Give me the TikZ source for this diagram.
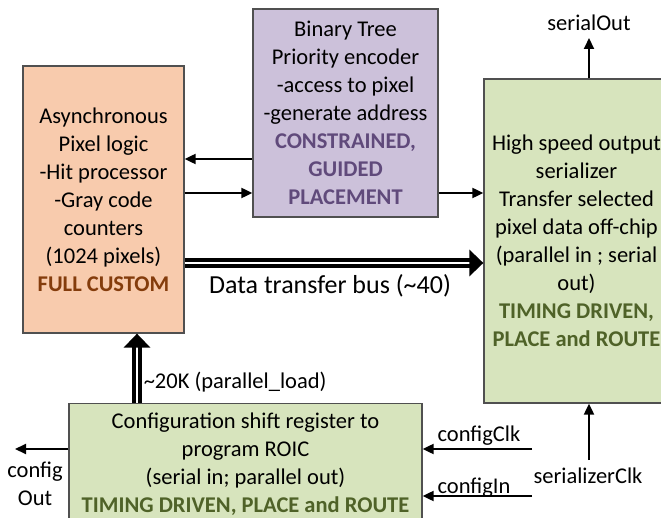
\documentclass[tikz,border=0pt]{standalone}
\usepackage{fontspec}
\setmainfont{Carlito}
\usetikzlibrary{arrows.meta}

\definecolor{pixelfill}{HTML}{F8CBAD}
\definecolor{pixeltext}{HTML}{843C0C}
\definecolor{encfill}{HTML}{CCC1DA}
\definecolor{enctext}{HTML}{604A7B}
\definecolor{serfill}{HTML}{D7E4BD}
\definecolor{sertext}{HTML}{4F6228}
\definecolor{edge}{HTML}{505050}

\begin{document}
\begin{tikzpicture}[x=1pt, y=-1pt,
    every node/.style={font=\fontsize{22.5}{28}\selectfont, inner sep=1pt},
    blk/.style={draw=edge, line width=1.3pt, align=center, inner sep=0pt},
    sig/.style={line width=2pt, -{Triangle[length=11pt,width=10pt]}},
    bus/.style={double, double distance=2.5pt, line width=3.5pt, -{Triangle[length=14pt,width=26pt]}}]
    \clip (0,0) rectangle (661,518);

    % blocks
    \node[blk, fill=pixelfill, minimum width=161pt, minimum height=267pt] (pix) at (103.5,199.5)
        {Asynchronous\\Pixel logic\\-Hit processor\\-Gray code\\counters\\(1024 pixels)\\\textcolor{pixeltext}{\textbf{FULL CUSTOM}}};
    \node[blk, fill=encfill, minimum width=185pt, minimum height=208pt] (enc) at (345.5,113)
        {Binary Tree\\Priority encoder\\-access to pixel\\-generate address\\\textcolor{enctext}{\textbf{CONSTRAINED,}}\\\textcolor{enctext}{\textbf{GUIDED}}\\\textcolor{enctext}{\textbf{PLACEMENT}}};
    \node[blk, fill=serfill, minimum width=185pt, minimum height=324pt] (ser) at (576.5,241)
        {High speed output\\serializer\\Transfer selected\\pixel data off-chip\\(parallel in ; serial\\out)\\\textcolor{sertext}{\textbf{TIMING DRIVEN,}}\\\textcolor{sertext}{\textbf{PLACE and ROUTE}}};
    \node[blk, fill=serfill, minimum width=353pt, minimum height=122pt, anchor=north] (cfg) at (245.5,403)
        {Configuration shift register to\\program ROIC\\(serial in; parallel out)\\\textcolor{sertext}{\textbf{TIMING DRIVEN, PLACE and ROUTE}}};

    % pins
    \coordinate (sout) at (589,38);
    \coordinate (sclk) at (589,460);
    \coordinate (cclk) at (532,449);
    \coordinate (cin) at (532,496);
    \coordinate (cout) at (15,449);

    \node (soutlbl) at (589,23) {serialOut};
    \node (sclklbl) at (588,476) {serializerClk};
    \node (cclklbl) at (479,436) {configClk};
    \node (cinlbl) at (474,488) {configIn};
    \node[align=center] (coutlbl) at (35,484) {config\\Out};

    % connections
    \draw[sig] (enc.west |- 0,159) -- (pix.east |- 0,159);
    \draw[sig] (pix.east |- 0,193) -- (enc.west |- 0,193);
    \draw[sig] (enc.east |- 0,193) -- (ser.west |- 0,193);
    \draw[bus] (pix.east |- 0,263) -- (ser.west |- 0,263)
        node[midway, below=9pt, xshift=-4pt, font=\fontsize{26}{31}\selectfont] (buslbl) {Data transfer bus (\textasciitilde40)};
    \draw[bus] (cfg.north -| 137,0) -- (pix.south -| 137,0)
        node[pos=0.3, anchor=west, xshift=4pt] (loadlbl) {\textasciitilde20K (parallel\_load)};

    \draw[sig] (ser.north -| sout) -- (sout);
    \draw[sig] (sclk) -- (ser.south -| sclk);
    \draw[sig] (cclk) -- (cfg.east |- cclk);
    \draw[sig] (cin) -- (cfg.east |- cin);
    \draw[sig] (cfg.west |- cout) -- (cout);

\end{tikzpicture}
\end{document}
